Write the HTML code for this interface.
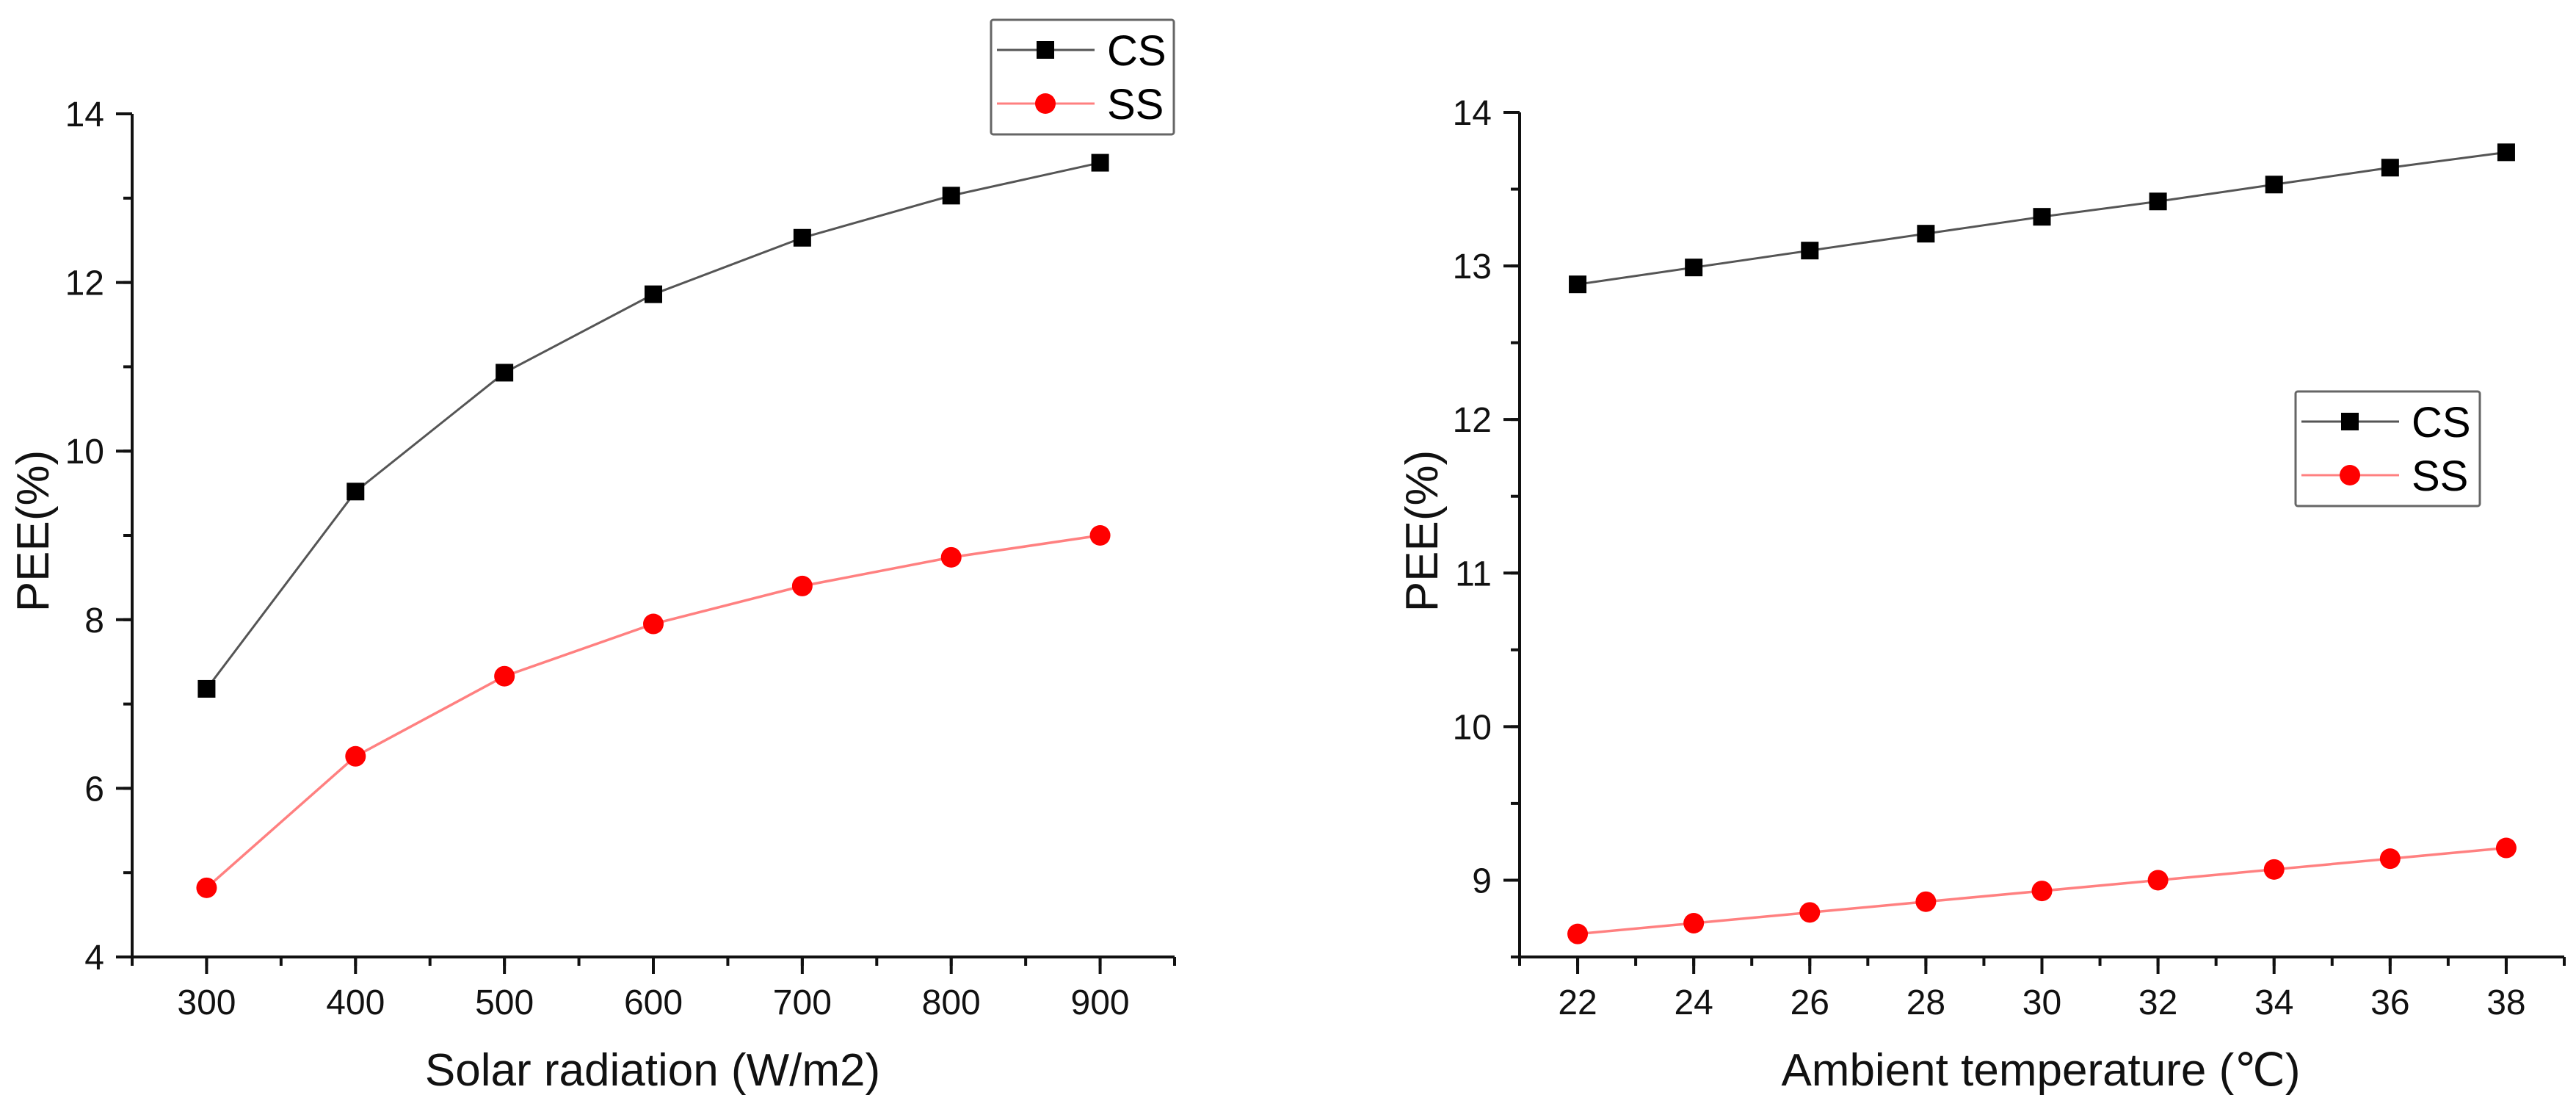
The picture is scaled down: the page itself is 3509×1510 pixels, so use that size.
<!DOCTYPE html>
<html><head><meta charset="utf-8"><style>
html,body{margin:0;padding:0;background:#fff;}
svg{display:block;font-family:"Liberation Sans",Arial,sans-serif;}
</style></head><body>
<svg id="chart" width="3509" height="1510" viewBox="0 0 3509 1510" xmlns="http://www.w3.org/2000/svg"></svg>
<script>
// Left panel data
const leftX = [300, 400, 500, 600, 700, 800, 900];
const leftCS = [7.18, 9.52, 10.93, 11.86, 12.53, 13.03, 13.42];
const leftSS = [4.82, 6.38, 7.33, 7.95, 8.40, 8.74, 9.00];
const leftXTicks = [300, 400, 500, 600, 700, 800, 900];
const leftYTicks = [4, 6, 8, 10, 12, 14];
// Right panel data
const rightX = [22, 24, 26, 28, 30, 32, 34, 36, 38];
const rightCS = [12.88, 12.99, 13.10, 13.21, 13.32, 13.42, 13.53, 13.64, 13.74];
const rightSS = [8.65, 8.72, 8.79, 8.86, 8.93, 9.00, 9.07, 9.14, 9.21];
const rightXTicks = [22, 24, 26, 28, 30, 32, 34, 36, 38];
const rightYTicks = [9, 10, 11, 12, 13, 14];

const NS = "http://www.w3.org/2000/svg";
const svg = document.getElementById("chart");
function mk(tag, attrs, parent) {
  const e = document.createElementNS(NS, tag);
  for (const k in attrs) e.setAttribute(k, attrs[k]);
  (parent || svg).appendChild(e);
  return e;
}

function panel(cfg) {
  const g = mk("g", {});
  
  
  const sx = v => cfg.x0 + (v - cfg.xmin) / (cfg.xmax - cfg.xmin) * (cfg.x1 - cfg.x0);
  const sy = v => cfg.y0 - (v - cfg.ymin) / (cfg.ymax - cfg.ymin) * (cfg.y0 - cfg.y1);
  // axes
  const ax = mk("path", {d: `M${cfg.x0} ${cfg.y1} V${cfg.y0} H${cfg.x1}`, stroke: "#111", "stroke-width": 4, fill: "none"}, g);
  
  
  // x ticks
  cfg.xTicks.forEach(t => {
    const x = sx(t);
    mk("line", {x1: x, x2: x, y1: cfg.y0, y2: cfg.y0 + 23, stroke: "#111", "stroke-width": 4}, g);
    const lb = mk("text", {x: x, y: cfg.y0 + 78, "font-size": 48, "text-anchor": "middle", fill: "#111"}, g);
    lb.textContent = t;
    
    
  });
  for (let t = cfg.xmin; t <= cfg.xmax + 1e-9; t += cfg.xMinor) {
    const x = sx(t);
    mk("line", {x1: x, x2: x, y1: cfg.y0, y2: cfg.y0 + 12, stroke: "#111", "stroke-width": 4}, g);
  }
  // y ticks
  cfg.yTicks.forEach(t => {
    const y = sy(t);
    mk("line", {x1: cfg.x0 - 22, x2: cfg.x0, y1: y, y2: y, stroke: "#111", "stroke-width": 4}, g);
    const lb = mk("text", {x: cfg.x0 - 38, y: y + 17, "font-size": 48, "text-anchor": "end", fill: "#111"}, g);
    lb.textContent = t;
    
    
  });
  for (let t = cfg.ymin; t <= cfg.ymax + 1e-9; t += cfg.yMinor) {
    const y = sy(t);
    mk("line", {x1: cfg.x0 - 12, x2: cfg.x0, y1: y, y2: y, stroke: "#111", "stroke-width": 4}, g);
  }
  // titles
  const xt = mk("text", {x: cfg.xTitleX, y: 1478, "font-size": 62, "text-anchor": "middle", fill: "#111"}, g);
  xt.textContent = cfg.xTitle;
  
  
  const yt = mk("text", {x: 0, y: 0, "font-size": 62, "text-anchor": "middle", fill: "#111",
    transform: `translate(${cfg.yTitleX},723) rotate(-90)`}, g);
  yt.textContent = "PEE(%)";
  
  
  // series
  const pts = arr => cfg.xs.map((v, i) => `${sx(v)},${sy(arr[i])}`).join(" ");
  const lcs = mk("polyline", {points: pts(cfg.cs), fill: "none", stroke: "#555", "stroke-width": 3}, g);
  
  
  const lss = mk("polyline", {points: pts(cfg.ss), fill: "none", stroke: "#ff8080", "stroke-width": 3.5}, g);
  
  
  cfg.xs.forEach((v, i) => {
    const s = mk("rect", {x: sx(v) - 12, y: sy(cfg.cs[i]) - 12, width: 24, height: 24, fill: "#000"}, g);
    
    
    const c = mk("circle", {cx: sx(v), cy: sy(cfg.ss[i]), r: 14, fill: "#ff0000"}, g);
    
    
  });
  // legend
  const L = cfg.legend;
  const lg = mk("g", {}, g);
  
  
  mk("rect", {x: L.x, y: L.y, width: L.w, height: L.h, fill: "#fff", stroke: "#666", "stroke-width": 3, rx: 3}, lg);
  const rows = [["CS", "#555", "sq"], ["SS", "#ff8080", "ci"]];
  rows.forEach((r, i) => {
    const ry = L.y + 41 + i * 73;
    const e = mk("g", {}, lg);
    
    
    mk("line", {x1: L.x + 8, x2: L.x + 141, y1: ry, y2: ry, stroke: r[1], "stroke-width": 3}, e);
    if (r[2] === "sq") mk("rect", {x: L.x + 62, y: ry - 12, width: 24, height: 24, fill: "#000"}, e);
    else mk("circle", {cx: L.x + 74, cy: ry, r: 14, fill: "#ff0000"}, e);
    const t = mk("text", {x: L.x + 158, y: ry + 21, "font-size": 58, fill: "#000"}, e);
    t.textContent = r[0];
  });
}

panel({name: "solar-radiation-panel", x0: 180, x1: 1600, y0: 1303, y1: 155,
  xmin: 250, xmax: 950, ymin: 4, ymax: 14, xMinor: 50, yMinor: 1,
  xs: leftX, cs: leftCS, ss: leftSS, xTicks: leftXTicks, yTicks: leftYTicks,
  xTitle: "Solar radiation (W/m2)", xTitleX: 889, yTitleX: 66,
  legend: {x: 1350, y: 27, w: 249, h: 156}});

panel({name: "ambient-temperature-panel", x0: 2070, x1: 3493, y0: 1303, y1: 153,
  xmin: 21, xmax: 39, ymin: 8.5, ymax: 14, xMinor: 1, yMinor: 0.5,
  xs: rightX, cs: rightCS, ss: rightSS, xTicks: rightXTicks, yTicks: rightYTicks,
  xTitle: "Ambient temperature (\u2103)", xTitleX: 2780, yTitleX: 1958,
  legend: {x: 3127, y: 533, w: 251, h: 156}});
</script>
</body></html>
